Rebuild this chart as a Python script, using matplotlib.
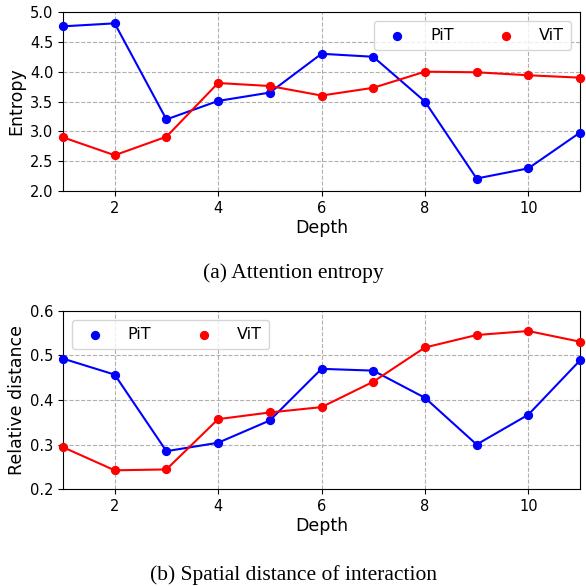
import matplotlib
matplotlib.use("Agg")
import matplotlib.pyplot as plt

depth = [1, 2, 3, 4, 5, 6, 7, 8, 9, 10, 11]

entropy_pit = [4.76, 4.81, 3.20, 3.51, 3.65, 4.30, 4.25, 3.50, 2.21, 2.38, 2.98]
entropy_vit = [2.90, 2.60, 2.91, 3.81, 3.76, 3.60, 3.73, 4.00, 3.99, 3.94, 3.90]

dist_pit = [0.493, 0.457, 0.285, 0.304, 0.354, 0.470, 0.466, 0.405, 0.300, 0.367, 0.489]
dist_vit = [0.294, 0.242, 0.244, 0.357, 0.372, 0.384, 0.441, 0.518, 0.546, 0.555, 0.531]

fig = plt.figure(figsize=(5.86, 5.86), dpi=100)
ax1 = fig.add_axes([0.1075, 0.674, 0.8823, 0.3055])
ax2 = fig.add_axes([0.1075, 0.1655, 0.8823, 0.3038])


def draw(ax, pit, vit, ylim, ylabel, loc):
    ax.plot(depth, pit, color="blue", lw=1.5)
    ax.plot(depth, vit, color="red", lw=1.5)
    ax.scatter(depth, pit, color="blue", s=32, label="PiT", zorder=3, clip_on=False)
    ax.scatter(depth, vit, color="red", s=32, label="ViT", zorder=3, clip_on=False)
    ax.set_xlim(1, 11)
    ax.set_ylim(*ylim)
    ax.set_xticks([2, 4, 6, 8, 10])
    ax.grid(True, linestyle="--", color="#b0b0b0", lw=0.8)
    ax.set_axisbelow(True)
    ax.set_xlabel("Depth", fontsize=12.5, labelpad=2)
    ax.set_ylabel(ylabel, fontsize=12.5, labelpad=3)
    ax.tick_params(labelsize=10.5)
    ax.legend(loc=loc, ncol=2, fontsize=11.5, handletextpad=1.05, columnspacing=2.3,
              borderpad=0.45, borderaxespad=0.55)


draw(ax1, entropy_pit, entropy_vit, (2.0, 5.0), "Entropy", "upper right")
ax1.set_yticks([2.0, 2.5, 3.0, 3.5, 4.0, 4.5, 5.0])
draw(ax2, dist_pit, dist_vit, (0.2, 0.6), "Relative distance", "upper left")
ax2.set_yticks([0.2, 0.3, 0.4, 0.5, 0.6])

fig.text(0.5, 0.534, "(a) Attention entropy", ha="center", va="center",
         family="Liberation Serif", fontsize=15.5)
fig.text(0.5, 0.019, "(b) Spatial distance of interaction", ha="center", va="center",
         family="Liberation Serif", fontsize=15.5)

fig.savefig("out.png", dpi=100)
